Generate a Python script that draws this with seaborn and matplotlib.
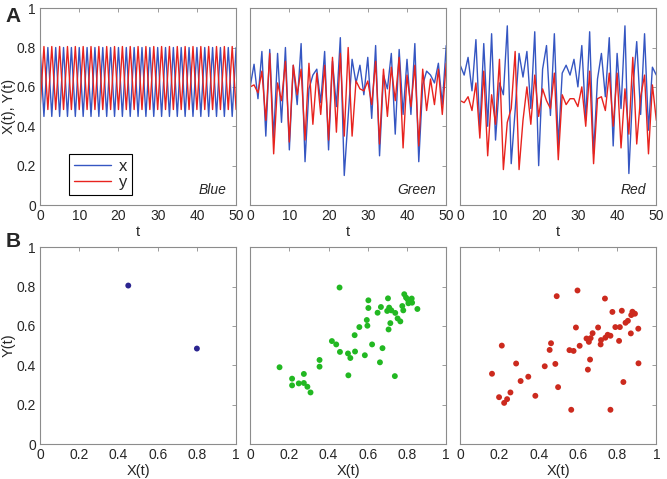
import matplotlib
matplotlib.use("Agg")
import matplotlib.pyplot as plt
import seaborn as sns

# ------------------------------
# data
# ------------------------------
t = list(range(51))

# panel "Blue": period-2 cycle
blue_x = [0.80, 0.45, 0.80, 0.45, 0.80, 0.45, 0.80, 0.45, 0.80, 0.45,
          0.80, 0.45, 0.80, 0.45, 0.80, 0.45, 0.80, 0.45, 0.80, 0.45,
          0.80, 0.45, 0.80, 0.45, 0.80, 0.45, 0.80, 0.45, 0.80, 0.45,
          0.80, 0.45, 0.80, 0.45, 0.80, 0.45, 0.80, 0.45, 0.80, 0.45,
          0.80, 0.45, 0.80, 0.45, 0.80, 0.45, 0.80, 0.45, 0.80, 0.45,
          0.80]
blue_y = [0.485, 0.805, 0.485, 0.805, 0.485, 0.805, 0.485, 0.805, 0.485, 0.805,
          0.485, 0.805, 0.485, 0.805, 0.485, 0.805, 0.485, 0.805, 0.485, 0.805,
          0.485, 0.805, 0.485, 0.805, 0.485, 0.805, 0.485, 0.805, 0.485, 0.805,
          0.485, 0.805, 0.485, 0.805, 0.485, 0.805, 0.485, 0.805, 0.485, 0.805,
          0.485, 0.805, 0.485, 0.805, 0.485, 0.805, 0.485, 0.805, 0.485, 0.805,
          0.485]

green_x = [0.60, 0.715, 0.54, 0.78, 0.35, 0.79, 0.34, 0.77, 0.42, 0.80,
           0.28, 0.71, 0.51, 0.82, 0.22, 0.59, 0.66, 0.69, 0.52, 0.78,
           0.28, 0.73, 0.50, 0.85, 0.15, 0.45, 0.74, 0.62, 0.71, 0.56,
           0.75, 0.44, 0.81, 0.25, 0.66, 0.59, 0.77, 0.36, 0.79, 0.46,
           0.74, 0.46, 0.82, 0.22, 0.61, 0.68, 0.66, 0.62, 0.72, 0.51,
           0.81]
green_y = [0.60, 0.61, 0.57, 0.68, 0.43, 0.77, 0.26, 0.62, 0.53, 0.73,
           0.32, 0.71, 0.56, 0.69, 0.33, 0.72, 0.41, 0.67, 0.46, 0.71,
           0.33, 0.75, 0.37, 0.77, 0.35, 0.80, 0.35, 0.63, 0.59, 0.58,
           0.63, 0.51, 0.73, 0.31, 0.69, 0.45, 0.70, 0.53, 0.75, 0.29,
           0.66, 0.50, 0.71, 0.30, 0.69, 0.48, 0.64, 0.51, 0.69, 0.46,
           0.72]

red_x = [0.71, 0.66, 0.75, 0.58, 0.84, 0.38, 0.82, 0.40, 0.87, 0.33,
         0.62, 0.56, 0.91, 0.21, 0.48, 0.77, 0.65, 0.78, 0.49, 0.88,
         0.20, 0.69, 0.81, 0.455, 0.87, 0.30, 0.67, 0.71, 0.66, 0.74,
         0.60, 0.81, 0.43, 0.88, 0.26, 0.64, 0.77, 0.55, 0.85, 0.30,
         0.77, 0.49, 0.91, 0.16, 0.59, 0.83, 0.46, 0.87, 0.38, 0.70,
         0.66]
red_y = [0.53, 0.52, 0.55, 0.48, 0.62, 0.34, 0.68, 0.25, 0.56, 0.41,
         0.74, 0.18, 0.42, 0.49, 0.78, 0.18, 0.43, 0.60, 0.41, 0.66,
         0.45, 0.59, 0.53, 0.49, 0.67, 0.23, 0.56, 0.51, 0.54, 0.54,
         0.50, 0.60, 0.40, 0.68, 0.21, 0.54, 0.55, 0.48, 0.67, 0.40,
         0.67, 0.29, 0.59, 0.36, 0.75, 0.31, 0.55, 0.66, 0.26, 0.61,
         0.43]

# scatter panels (B)
blue_sx = [0.45, 0.80]
blue_sy = [0.805, 0.485]

green_sx = [0.150, 0.214, 0.214, 0.248, 0.274, 0.274, 0.292, 0.308, 0.354, 0.354,
            0.417, 0.439, 0.456, 0.458, 0.499, 0.501, 0.511, 0.533, 0.535, 0.557,
            0.585, 0.595, 0.598, 0.603, 0.603, 0.622, 0.650, 0.662, 0.667, 0.675,
            0.703, 0.699, 0.706, 0.709, 0.715, 0.720, 0.738, 0.740, 0.752, 0.766,
            0.776, 0.781, 0.786, 0.795, 0.803, 0.807, 0.817, 0.824, 0.826, 0.853]
green_sy = [0.390, 0.332, 0.298, 0.308, 0.356, 0.310, 0.291, 0.262, 0.427, 0.393,
            0.523, 0.506, 0.795, 0.468, 0.460, 0.349, 0.437, 0.553, 0.470, 0.594,
            0.451, 0.630, 0.601, 0.730, 0.691, 0.506, 0.667, 0.415, 0.696, 0.487,
            0.740, 0.676, 0.582, 0.693, 0.614, 0.679, 0.345, 0.666, 0.638, 0.623,
            0.701, 0.679, 0.761, 0.744, 0.735, 0.715, 0.727, 0.739, 0.718, 0.686]

red_sx = [0.162, 0.198, 0.212, 0.224, 0.239, 0.256, 0.285, 0.308, 0.347, 0.383,
          0.431, 0.456, 0.463, 0.485, 0.492, 0.499, 0.557, 0.566, 0.578, 0.590,
          0.598, 0.609, 0.644, 0.651, 0.656, 0.662, 0.665, 0.675, 0.703, 0.716,
          0.718, 0.738, 0.740, 0.752, 0.766, 0.766, 0.776, 0.791, 0.810, 0.814,
          0.824, 0.832, 0.843, 0.855, 0.870, 0.872, 0.878, 0.884, 0.891, 0.908,
          0.909]
red_sy = [0.357, 0.238, 0.500, 0.209, 0.228, 0.262, 0.409, 0.320, 0.342, 0.245,
          0.395, 0.478, 0.512, 0.407, 0.751, 0.289, 0.477, 0.174, 0.473, 0.592,
          0.780, 0.499, 0.536, 0.378, 0.519, 0.429, 0.538, 0.563, 0.592, 0.506,
          0.528, 0.739, 0.540, 0.555, 0.174, 0.550, 0.671, 0.594, 0.524, 0.594,
          0.677, 0.315, 0.616, 0.626, 0.562, 0.655, 0.672, 0.664, 0.662, 0.586,
          0.410]

panel_names = ["Blue", "Green", "Red"]
x_series = [blue_x, green_x, red_x]
y_series = [blue_y, green_y, red_y]
scatter_x = [blue_sx, green_sx, red_sx]
scatter_y = [blue_sy, green_sy, red_sy]
dot_colors = ["#2b2590", "#22b822", "#cc2a1e"]

LINE_X = "#3556c2"
LINE_Y = "#e8231e"
SPINE = "#8c8c8c"

# ------------------------------
# figure
# ------------------------------
sns.set_style("white")
plt.rcParams["font.family"] = ["Liberation Sans", "DejaVu Sans"]

fig = plt.figure(figsize=(6.67, 4.79), dpi=100)
lefts = [0.060, 0.375, 0.690]
width, height = 0.294, 0.411


def style_axes(ax):
    for sp in ax.spines.values():
        sp.set_color(SPINE)
        sp.set_linewidth(0.8)
    ax.tick_params(direction="in", length=3, width=0.6, color=SPINE,
                   top=True, right=True, labelsize=10, pad=3)


for i in range(3):
    # top row: time series
    ax = fig.add_axes([lefts[i], 0.572, width, height])
    sns.lineplot(x=t, y=x_series[i], color=LINE_X, lw=1.0, ax=ax, label="x")
    sns.lineplot(x=t, y=y_series[i], color=LINE_Y, lw=1.0, ax=ax, label="y")
    ax.set_xlim(0, 50)
    ax.set_ylim(0, 1)
    ax.set_xticks([0, 10, 20, 30, 40, 50])
    ax.set_yticks([0, 0.2, 0.4, 0.6, 0.8, 1])
    ax.set_yticklabels(["0", "0.2", "0.4", "0.6", "0.8", "1"])
    ax.set_xlabel("t", fontsize=10.5, labelpad=1)
    style_axes(ax)
    ax.text(0.95, 0.075, panel_names[i], transform=ax.transAxes, ha="right",
            va="center", fontsize=10, style="italic")
    if i == 0:
        ax.set_ylabel("X(t), Y(t)", fontsize=10.5)
        ax.yaxis.set_label_coords(-0.125, 0.5)
        leg = ax.legend(loc="lower left", bbox_to_anchor=(0.148, 0.05),
                        borderaxespad=0, fancybox=False, framealpha=1,
                        fontsize=12, handlelength=2.2, handletextpad=0.5,
                        labelspacing=0.1, borderpad=0.3)
        leg.get_frame().set_edgecolor("black")
        leg.get_frame().set_linewidth(0.8)
    else:
        ax.get_legend().remove()
        ax.set_yticklabels([])
        ax.set_ylabel("")

    # bottom row: X(t) vs Y(t)
    bx = fig.add_axes([lefts[i], 0.073, width, height])
    sns.scatterplot(x=scatter_x[i], y=scatter_y[i], color=dot_colors[i],
                    s=18, edgecolor="none", ax=bx)
    bx.set_xlim(0, 1)
    bx.set_ylim(0, 1)
    ticks = [0, 0.2, 0.4, 0.6, 0.8, 1]
    tick_txt = ["0", "0.2", "0.4", "0.6", "0.8", "1"]
    bx.set_xticks(ticks)
    bx.set_xticklabels(tick_txt)
    bx.set_yticks(ticks)
    bx.set_xlabel("X(t)", fontsize=10.5, labelpad=1)
    style_axes(bx)
    if i == 0:
        bx.set_yticklabels(tick_txt)
        bx.set_ylabel("Y(t)", fontsize=10.5)
        bx.yaxis.set_label_coords(-0.125, 0.5)
    else:
        bx.set_yticklabels([])

fig.text(0.008, 0.985, "A", fontsize=15, weight="bold", va="top")
fig.text(0.008, 0.515, "B", fontsize=15, weight="bold", va="top")

fig.savefig("out.png", dpi=100)
